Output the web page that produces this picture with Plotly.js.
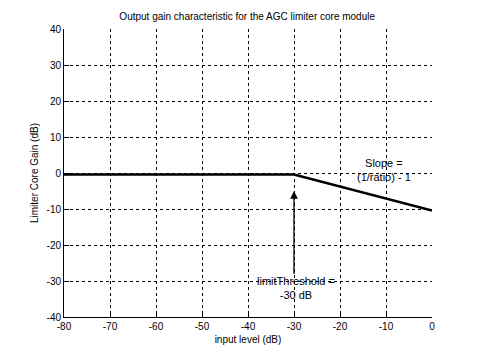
<!DOCTYPE html>
<html><head><meta charset="utf-8">
<script src="https://cdn.plot.ly/plotly-3.0.1.min.js"></script>
<style>body{margin:0;background:#fff}#c{width:480px;height:360px}</style>
</head><body><div id="c"></div>
<script>
const inputLevel = [-80, -30, 0];
const gain = [-0.4, -0.4, -10.4];
const xTicks = [-80, -70, -60, -50, -40, -30, -20, -10, 0];
const yTicks = [-40, -30, -20, -10, 0, 10, 20, 30, 40];
const titleText = 'Output gain characteristic for the AGC limiter core module';
const xLabel = 'input level (dB)';
const yLabel = 'Limiter Core Gain (dB)';
const threshold = -30;

const font = {family: 'Liberation Sans, Arial, sans-serif', size: 10, color: '#000'};
const axisCommon = {
  showline: true, linecolor: '#000', linewidth: 1, mirror: false,
  ticks: 'inside', ticklen: 5, tickcolor: '#000', tickwidth: 1,
  showgrid: true, gridcolor: '#000', gridwidth: 1, griddash: '3px,3px',
  zeroline: false, tickfont: font
};
Plotly.newPlot('c', [{
  x: inputLevel, y: gain, type: 'scatter', mode: 'lines',
  line: {color: '#000', width: 2.5}, hoverinfo: 'skip'
}], {
  width: 480, height: 360,
  margin: {l: 64, r: 48, t: 29, b: 43},
  paper_bgcolor: '#fff', plot_bgcolor: '#fff',
  showlegend: false, font: font,
  title: {text: titleText, font: font, x: 0.515, xanchor: 'center', y: 0.955, yanchor: 'middle'},
  xaxis: Object.assign({}, axisCommon, {range: [-80, 0], tickvals: xTicks, ticktext: xTicks.map(String),
    title: {text: xLabel, font: font, standoff: 4}}),
  yaxis: Object.assign({}, axisCommon, {range: [-40, 40], tickvals: yTicks, ticktext: yTicks.map(String),
    title: {text: yLabel, font: font, standoff: 6}}),
  annotations: [
    {x: threshold, y: -5, ax: threshold, ay: -28.5, xref: 'x', yref: 'y', axref: 'x', ayref: 'y',
     text: '', showarrow: true, arrowhead: 2, arrowsize: 1.2, arrowwidth: 1.3, arrowcolor: '#000'},
    {x: threshold, y: -30, xref: 'x', yref: 'y', text: 'limitThreshold =<br>-30 dB', showarrow: false,
     font: {family: font.family, size: 11, color: '#000'}, yanchor: 'top', yshift: 8, xshift: 2},
    {x: -10.5, y: 2, xref: 'x', yref: 'y', text: 'Slope =<br>(1/ratio) - 1', showarrow: false,
     font: {family: font.family, size: 11, color: '#000'}, yanchor: 'bottom', yshift: -19}
  ]
}, {staticPlot: true});
</script></body></html>
